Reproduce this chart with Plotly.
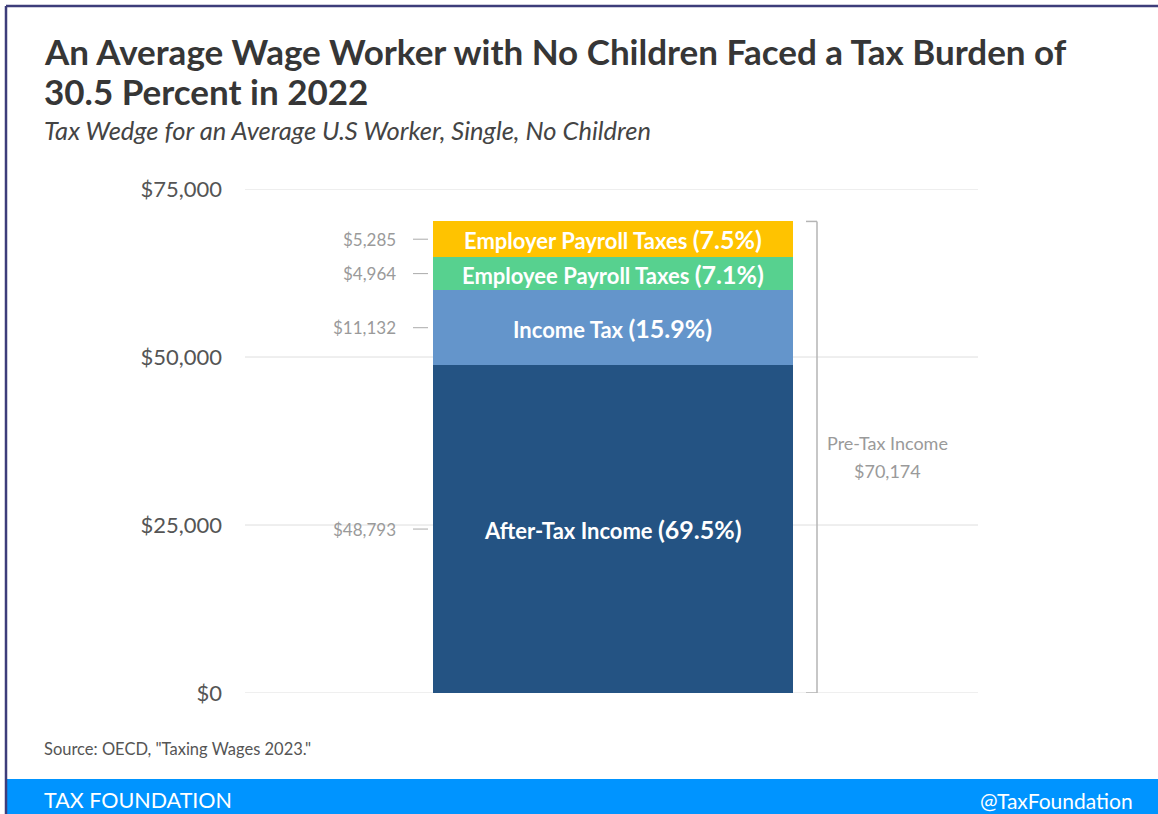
import plotly.graph_objects as go

# ---------------- data ----------------
categories = ["After-Tax Income", "Income Tax", "Employee Payroll Taxes", "Employer Payroll Taxes"]
values = [48793, 11132, 4964, 5285]
shares = [69.5, 15.9, 7.1, 7.5]
value_labels = ["$48,793", "$11,132", "$4,964", "$5,285"]
total_label = "$70,174"
tick_vals = [0, 25000, 50000, 75000]
tick_text = ["$0", "$25,000", "$50,000", "$75,000"]

colors = ["#245383", "#6495cb", "#57d18f", "#ffc300"]

W, H = 1158, 814
def px(x):
    return x / W
def py(y):
    return 1 - y / H

FONT = "Lato"

fig = go.Figure()
for cat, v, c in zip(categories, values, colors):
    fig.add_trace(go.Bar(x=[0], y=[v], name=cat, marker=dict(color=c, line=dict(width=0)),
                         width=1, hoverinfo="skip", showlegend=False))

total = sum(values)
annotations = []
shapes = []

# gridlines (drawn as shapes so the ones at the range ends show too)
for tv in tick_vals:
    shapes.append(dict(type="line", xref="paper", yref="y", x0=px(245), x1=px(978), y0=tv, y1=tv,
                       line=dict(color="#dedede", width=1), layer="below"))

# labels inside the bars and at the left
cum = 0
for cat, v, s, lab in zip(categories, values, shares, value_labels):
    mid = cum + v / 2
    cum += v
    annotations.append(dict(
        x=0, y=mid, xref="x", yref="y", showarrow=False,
        text=f"<b>{cat} <span style='font-size:25px'>({s}%)</span></b>",
        font=dict(family=FONT, size=22, color="white"), xanchor="center", yanchor="middle"))
    annotations.append(dict(
        x=px(398), y=mid, xref="paper", yref="y", showarrow=False, text=lab,
        font=dict(family=FONT, size=17, color="#9a9a9a"), xanchor="right", yanchor="middle"))
    shapes.append(dict(type="line", xref="paper", yref="y", x0=px(413), x1=px(428), y0=mid, y1=mid,
                       line=dict(color="#aaaaaa", width=1)))

# bracket for pre-tax income
shapes += [
    dict(type="line", xref="paper", yref="y", x0=px(817), x1=px(817), y0=0, y1=total, line=dict(color="#b5b5b5", width=1.5)),
    dict(type="line", xref="paper", yref="y", x0=px(806), x1=px(817), y0=0, y1=0, line=dict(color="#b5b5b5", width=1.5)),
    dict(type="line", xref="paper", yref="y", x0=px(806), x1=px(817), y0=total, y1=total, line=dict(color="#b5b5b5", width=1.5)),
]
annotations.append(dict(x=px(887), y=total / 2, xref="paper", yref="y", yshift=14, showarrow=False,
                        text="Pre-Tax Income", font=dict(family=FONT, size=18, color="#9a9a9a"),
                        xanchor="center", yanchor="middle"))
annotations.append(dict(x=px(887), y=total / 2, xref="paper", yref="y", yshift=-14, showarrow=False,
                        text=total_label, font=dict(family=FONT, size=18, color="#9a9a9a"),
                        xanchor="center", yanchor="middle"))

# titles
annotations.append(dict(x=px(42), y=py(51), xref="paper", yref="paper", showarrow=False,
                        text="<b>An Average Wage Worker with No Children Faced a Tax Burden of</b>",
                        font=dict(family=FONT, size=35, color="#363636"), xanchor="left", yanchor="middle"))
annotations.append(dict(x=px(42), y=py(91), xref="paper", yref="paper", showarrow=False,
                        text="<b>30.5 Percent in 2022</b>",
                        font=dict(family=FONT, size=35, color="#363636"), xanchor="left", yanchor="middle"))
annotations.append(dict(x=px(42), y=py(130), xref="paper", yref="paper", showarrow=False,
                        text="<i>Tax Wedge for an Average U.S Worker, Single, No Children</i>",
                        font=dict(family=FONT, size=25.5, color="#444444"), xanchor="left", yanchor="middle"))
annotations.append(dict(x=px(42), y=py(749), xref="paper", yref="paper", showarrow=False,
                        text="Source: OECD, \"Taxing Wages 2023.\"",
                        font=dict(family=FONT, size=16.5, color="#555555"), xanchor="left", yanchor="middle"))
annotations.append(dict(x=px(42), y=py(800), xref="paper", yref="paper", showarrow=False,
                        text="TAX FOUNDATION",
                        font=dict(family=FONT, size=21.5, color="white"), xanchor="left", yanchor="middle"))
annotations.append(dict(x=px(1135), y=py(800), xref="paper", yref="paper", showarrow=False,
                        text="@TaxFoundation",
                        font=dict(family=FONT, size=21, color="white"), xanchor="right", yanchor="middle"))

# footer band and border
shapes.insert(0, dict(type="rect", xref="paper", yref="paper", x0=px(7), x1=1, y0=0, y1=py(779),
                      fillcolor="#0094ff", line=dict(width=0), layer="below"))
shapes.append(dict(type="line", xref="paper", yref="paper", x0=px(6), x1=1, y0=py(6), y1=py(6),
                   line=dict(color="#3d3d7a", width=2.5)))
shapes.append(dict(type="line", xref="paper", yref="paper", x0=px(6), x1=px(6), y0=0, y1=py(6),
                   line=dict(color="#3d3d7a", width=2.5)))

fig.update_layout(
    width=W, height=H, margin=dict(l=0, r=0, t=0, b=0),
    paper_bgcolor="white", plot_bgcolor="rgba(0,0,0,0)",
    barmode="stack", bargap=0,
    annotations=annotations, shapes=shapes,
    xaxis=dict(domain=[px(245), px(978)], range=[-1.022, 1.014], visible=False, fixedrange=True),
    yaxis=dict(domain=[py(693), py(189)], range=[0, 75000], tickvals=tick_vals, ticktext=tick_text,
               showgrid=False, zeroline=False, showline=False,
               ticks="", ticklabelstandoff=22, automargin=False,
               tickfont=dict(family=FONT, size=22, color="#555555"), fixedrange=True),
)

fig.write_html("out.html", config={"displayModeBar": False})
